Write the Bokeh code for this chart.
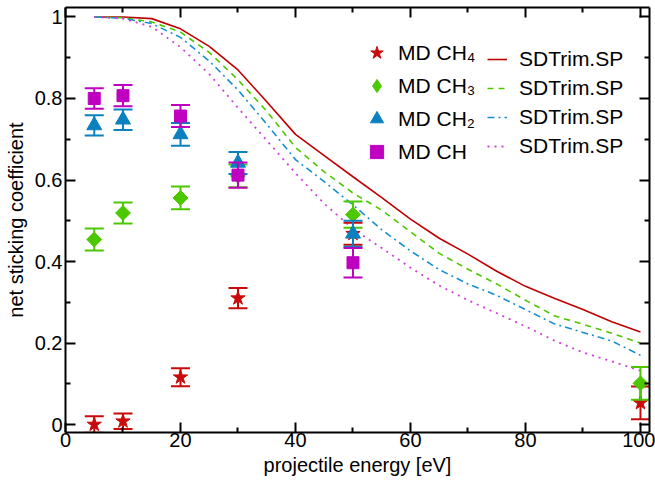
import numpy as np
from bokeh.plotting import figure
from bokeh.models import (Range1d, FixedTicker, LinearAxis, PrintfTickFormatter,
                          Legend, LegendItem, ColumnDataSource)
from bokeh.embed import file_html
from bokeh.resources import INLINE

# ---------------- data ----------------
x_ticks = [0, 20, 40, 60, 80, 100]
x_minor = [10, 30, 50, 70, 90]
y_ticks = [0, 0.2, 0.4, 0.6, 0.8, 1.0]
y_minor = [0.1, 0.3, 0.5, 0.7, 0.9]

# MD results (value, error)
ch4_e = [5, 10, 20, 30, 50, 100]
ch4_v = [0.0, 0.008, 0.116, 0.31, 0.468, 0.053]
ch4_err = [0.02, 0.019, 0.022, 0.025, 0.027, 0.04]

ch3_e = [5, 10, 20, 30, 50, 100]
ch3_v = [0.454, 0.519, 0.556, 0.61, 0.515, 0.101]
ch3_err = [0.027, 0.026, 0.028, 0.028, 0.032, 0.04]

ch2_e = [5, 10, 20, 30, 50]
ch2_v = [0.734, 0.748, 0.712, 0.642, 0.468]
ch2_err = [0.025, 0.025, 0.028, 0.027, 0.032]

ch_e = [5, 10, 20, 30, 50]
ch_v = [0.80, 0.807, 0.757, 0.612, 0.397]
ch_err = [0.025, 0.026, 0.027, 0.031, 0.036]

# SDTrim.SP curves
sd_e = [5, 10, 15, 20, 25, 30, 35, 40, 45, 50, 55, 60, 65, 70, 75, 80, 85, 90, 95, 100]
sd_ch4 = [1.0, 1.0, 0.996, 0.971, 0.928, 0.870, 0.792, 0.712, 0.660, 0.608, 0.557, 0.504,
          0.457, 0.418, 0.376, 0.339, 0.310, 0.282, 0.252, 0.227]
sd_ch3 = [1.0, 0.998, 0.988, 0.963, 0.913, 0.846, 0.769, 0.680, 0.620, 0.568, 0.526, 0.473,
          0.420, 0.381, 0.345, 0.305, 0.267, 0.246, 0.224, 0.200]
sd_ch2 = [1.0, 0.997, 0.984, 0.950, 0.892, 0.821, 0.737, 0.650, 0.596, 0.539, 0.478, 0.426,
          0.380, 0.345, 0.317, 0.282, 0.247, 0.226, 0.205, 0.170]
sd_ch = [1.0, 0.996, 0.976, 0.926, 0.860, 0.777, 0.697, 0.617, 0.542, 0.480, 0.433, 0.385,
         0.341, 0.305, 0.273, 0.241, 0.206, 0.177, 0.155, 0.132]

labels_md = ["MD CH\u2084", "MD CH\u2083", "MD CH\u2082", "MD CH"]
label_sd = "SDTrim.SP"

RED = "#c80a0a"
GREEN = "#4cc800"
BLUE = "#0a80c0"
MAG = "#c000c0"
BLUE_L = "#1890d0"
MAG_L = "#d040d8"

FONT = "Liberation Sans"

p = figure(width=655, height=482, output_backend="svg", toolbar_location=None,
           x_range=Range1d(0, 101.57), y_range=Range1d(-0.0196, 1.0233),
           min_border_left=65, min_border_right=6, min_border_top=7, min_border_bottom=50)
p.background_fill_color = "white"
p.border_fill_color = "white"
p.outline_line_color = None
p.xgrid.visible = False
p.ygrid.visible = False

# ----- lines -----
l1 = p.line(sd_e, sd_ch4, line_color="#c00000", line_width=1.6)
l2 = p.line(sd_e, sd_ch3, line_color=GREEN, line_width=1.6, line_dash="6 5")
l3 = p.line(sd_e, sd_ch2, line_color=BLUE_L, line_width=1.6, line_dash="7 4 2 4")
l4 = p.line(sd_e, sd_ch, line_color=MAG_L, line_width=1.8, line_dash="2 5")

# ----- MD points with error bars -----
def md_series(ex, v, err, color, marker, size, angle=0.0):
    v = np.array(v, dtype=float)
    err = np.array(err, dtype=float)
    src = ColumnDataSource(dict(x=ex, y=v, lo=v - err, hi=v + err))
    p.segment(x0="x", y0="lo", x1="x", y1="hi", source=src, line_color=color, line_width=2)
    p.scatter(x="x", y="lo", source=src, marker="dash", size=19, line_color=color, line_width=2)
    p.scatter(x="x", y="hi", source=src, marker="dash", size=19, line_color=color, line_width=2)
    r = p.scatter(x="x", y="y", source=src, marker=marker, size=size, angle=angle,
                  fill_color=color, line_color=color, line_width=1)
    return r

m1 = md_series(ch4_e, ch4_v, ch4_err, RED, "star", 15)
m2 = md_series(ch3_e, ch3_v, ch3_err, GREEN, "square", 10.5, np.pi / 4)
m3 = md_series(ch2_e, ch2_v, ch2_err, BLUE, "triangle", 15)
m4 = md_series(ch_e, ch_v, ch_err, MAG, "square", 12)

# legend-only glyph for the diamond (legend swatches are drawn unrotated)
m2_leg = p.scatter(x=ch3_e, y=ch3_v, marker="diamond", size=18,
                   fill_color=GREEN, line_color=GREEN, visible=False)

# ----- axes -----
def style_axis(ax, labels=True):
    ax.axis_line_width = 2
    ax.axis_line_color = "black"
    ax.major_tick_line_width = 2
    ax.minor_tick_line_width = 2
    ax.major_tick_in = 10
    ax.major_tick_out = 0
    ax.minor_tick_in = 5
    ax.minor_tick_out = 0
    ax.major_label_text_font = FONT
    ax.major_label_text_font_size = "20px"
    ax.major_label_text_color = "black"
    ax.axis_label_text_font = FONT
    ax.axis_label_text_font_size = "20px"
    ax.axis_label_text_font_style = "normal"
    ax.axis_label_text_color = "black"
    if not labels:
        ax.formatter = PrintfTickFormatter(format="")
        ax.major_label_text_font_size = "0px"
        ax.major_label_standoff = 0

xt = FixedTicker(ticks=x_ticks, minor_ticks=x_minor)
yt = FixedTicker(ticks=y_ticks, minor_ticks=y_minor)

p.xaxis.ticker = xt
p.yaxis.ticker = yt
p.yaxis.formatter = PrintfTickFormatter(format="%g")
p.xaxis.axis_label = "projectile energy [eV]"
p.yaxis.axis_label = "net sticking coefficient"
for ax in p.xaxis + p.yaxis:
    style_axis(ax)
p.xaxis.major_label_standoff = 0
p.yaxis.major_label_standoff = 3
p.xaxis.axis_label_standoff = 4
p.yaxis.axis_label_standoff = 5

top = LinearAxis(ticker=FixedTicker(ticks=x_ticks, minor_ticks=x_minor))
right = LinearAxis(ticker=FixedTicker(ticks=y_ticks, minor_ticks=y_minor))
style_axis(top, labels=False)
style_axis(right, labels=False)
p.add_layout(top, "above")
p.add_layout(right, "right")

# ----- legends -----
def style_legend(lg):
    lg.background_fill_alpha = 0
    lg.border_line_color = None
    lg.inactive_fill_alpha = 0
    lg.label_text_font = FONT
    lg.label_text_font_size = "21px"
    lg.label_text_color = "black"
    lg.padding = 0
    lg.margin = 0

leg_md = Legend(items=[LegendItem(label=labels_md[0], renderers=[m1]),
                       LegendItem(label=labels_md[1], renderers=[m2_leg]),
                       LegendItem(label=labels_md[2], renderers=[m3]),
                       LegendItem(label=labels_md[3], renderers=[m4])],
                location=(295, 264))
style_legend(leg_md)
leg_md.glyph_width = 33
leg_md.glyph_height = 33
leg_md.label_height = 28
leg_md.spacing = 0
leg_md.label_standoff = 5

leg_sd = Legend(items=[LegendItem(label=label_sd, renderers=[l1]),
                       LegendItem(label=label_sd, renderers=[l2]),
                       LegendItem(label=label_sd, renderers=[l3]),
                       LegendItem(label=label_sd, renderers=[l4])],
                location=(422, 272))
style_legend(leg_sd)
leg_sd.glyph_width = 20
leg_sd.glyph_height = 28
leg_sd.label_height = 28
leg_sd.spacing = 1
leg_sd.label_standoff = 12

p.add_layout(leg_md, "center")
p.add_layout(leg_sd, "center")

open("out.html", "w").write(file_html(p, INLINE))
